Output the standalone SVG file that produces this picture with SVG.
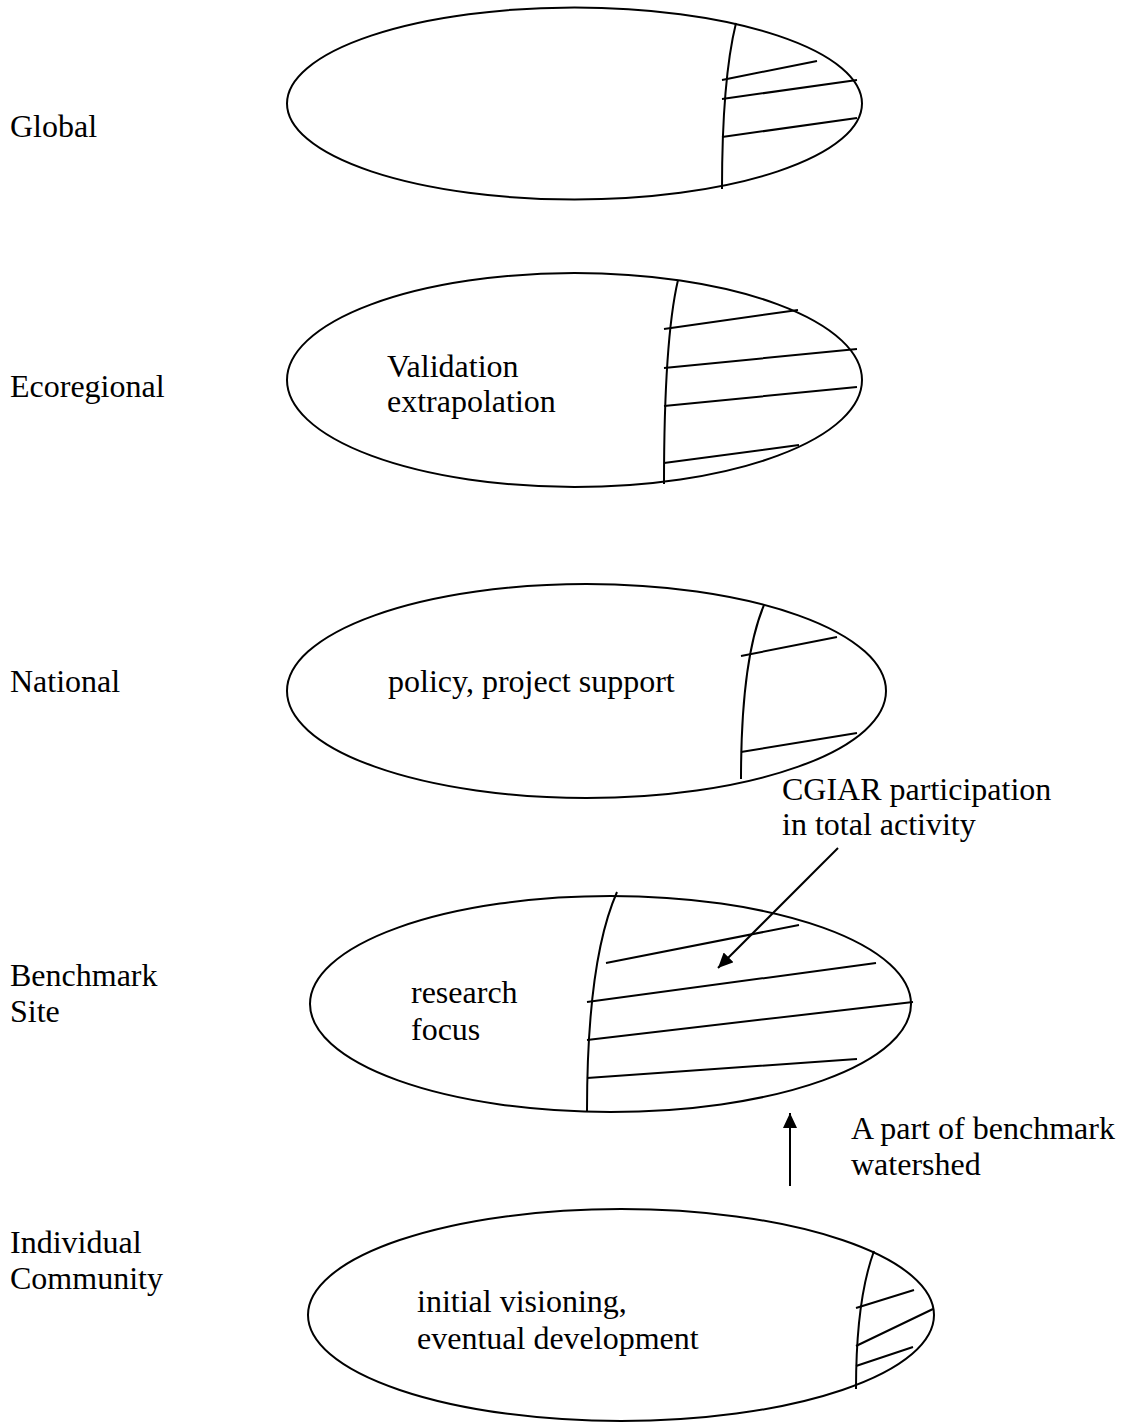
<svg xmlns="http://www.w3.org/2000/svg" width="1131" height="1423" viewBox="0 0 1131 1423">
<style>
.e{fill:none;stroke:#000;stroke-width:2}
.l{fill:none;stroke:#000;stroke-width:2}
text{font-family:"Liberation Serif","Times New Roman",serif;font-size:32px;fill:#000}
</style>
<defs>
<marker id="ah" markerWidth="15" markerHeight="14" refX="15" refY="7" orient="auto" markerUnits="userSpaceOnUse">
<path d="M0,0 L15,7 L0,14 Z" fill="#000"/>
</marker>
</defs>
<rect width="1131" height="1423" fill="#fff"/>
<g id="labels">
<text x="10" y="137">Global</text>
<text x="10" y="397">Ecoregional</text>
<text x="10" y="692">National</text>
<text x="10" y="986">Benchmark</text>
<text x="10" y="1022">Site</text>
<text x="10" y="1253">Individual</text>
<text x="10" y="1289">Community</text>
</g>
<g id="global">
<ellipse class="e" cx="574.5" cy="103.5" rx="287.5" ry="96"/>
<path class="l" d="M736,23 Q722,80 722,189"/>
<path class="l" d="M722,80 L817,61 M722,99 L857,80 M722,137 L857,118"/>
</g>
<g id="ecoregional">
<ellipse class="e" cx="574.5" cy="380" rx="287.5" ry="107"/>
<path class="l" d="M678,280 Q664,340 664,484"/>
<path class="l" d="M664,329 L798,310 M664,368 L857,349 M664,406 L857,387 M664,463 L799,445"/>
<text x="387" y="377">Validation</text>
<text x="387" y="412">extrapolation</text>
</g>
<g id="national">
<ellipse class="e" cx="586.5" cy="691" rx="299.5" ry="107"/>
<path class="l" d="M764,605 Q741,660 741,779"/>
<path class="l" d="M741,656 L837,637 M741,752 L857,733"/>
<text x="388" y="692">policy, project support</text>
</g>
<g id="benchmark">
<ellipse class="e" cx="610.5" cy="1004" rx="300.5" ry="108"/>
<path class="l" d="M617,892 Q587,960 587,1111"/>
<path class="l" d="M606,963 L799,925 M587,1002 L876,963 M587,1040 L913,1002 M587,1078 L857,1059"/>
<text x="411" y="1003">research</text>
<text x="411" y="1040">focus</text>
</g>
<g id="community">
<ellipse class="e" cx="621" cy="1315" rx="313" ry="106"/>
<path class="l" d="M874,1251 Q856,1300 856,1389"/>
<path class="l" d="M856,1308 L914,1290 M856,1346 L933,1309 M856,1366 L913,1347"/>
<text x="417" y="1312">initial visioning,</text>
<text x="417" y="1349">eventual development</text>
</g>
<g id="annotations">
<text x="782" y="800">CGIAR participation</text>
<text x="782" y="835">in total activity</text>
<text x="851" y="1139">A part of benchmark</text>
<text x="851" y="1175">watershed</text>
</g>
<g id="connectors">
<line class="l" x1="838" y1="848" x2="718" y2="968" marker-end="url(#ah)"/>
<line class="l" x1="790" y1="1186" x2="790" y2="1113" marker-end="url(#ah)"/>
</g>
</svg>
